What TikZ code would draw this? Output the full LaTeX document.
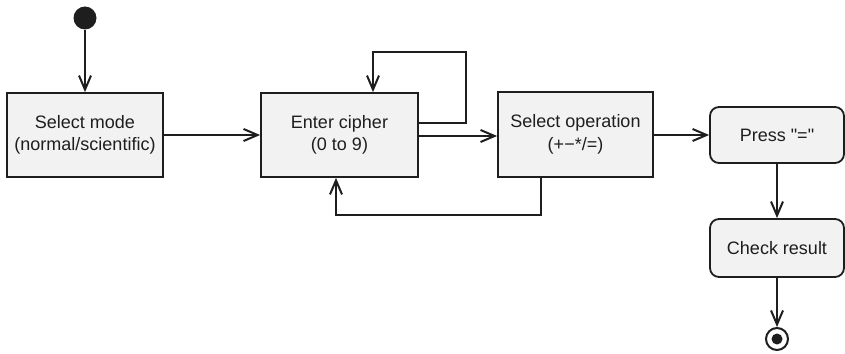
\documentclass[tikz,border=0pt]{standalone}
\usepackage{fontspec}
\setmainfont{Liberation Sans}[Ligatures=TeXOff]
\usetikzlibrary{arrows.meta}
\definecolor{boxfill}{HTML}{F2F2F2}
\definecolor{ink}{HTML}{1E1E1E}
\tikzset{
  arr/.style={draw=ink, line width=2pt, -{Straight Barb[length=14pt,width=12pt,line width=2pt]}},
  action/.style={draw=ink, fill=boxfill, line width=1.8pt, rectangle, align=center,
    inner sep=0pt, font=\fontsize{18}{22.5}\selectfont, text=ink},
  rounded action/.style={action, rounded corners=9pt},
}
\begin{document}
\begin{tikzpicture}[x=1pt, y=-1pt]
  \useasboundingbox (0,0) rectangle (845,353);

  % start and end markers
  \node[circle, fill=ink, minimum size=23pt, inner sep=0pt] (init) at (85,18) {};
  \node[circle, draw=ink, line width=2pt, minimum size=22pt, inner sep=0pt] (final) at (777,339) {};
  \fill[ink] (final.center) circle (5.5pt);

  % action boxes
  \node[action, minimum width=156pt, minimum height=84pt] (mode) at (85,135)
    {Select mode\\(normal/scientific)};
  \node[action, minimum width=157pt, minimum height=84pt] (cipher) at (339.5,135)
    {Enter cipher\\(0 to 9)};
  \node[action, minimum width=155pt, minimum height=85pt] (oper) at (575.5,134.5)
    {Select operation\\(+−*/=)};
  \node[rounded action, minimum width=134pt, minimum height=56pt] (press) at (777,135)
    {Press "="};
  \node[rounded action, minimum width=134pt, minimum height=58pt] (check) at (777,248)
    {Check result};

  % bend points of the loops
  \coordinate (loopR) at (466,52);
  \coordinate (backR) at (541,215);
  \coordinate (backL) at (336,215);

  % connectors
  \draw[arr] (init) -- (mode);
  \draw[arr] (mode.east) -- (mode.east -| cipher.west);
  \draw[arr] ([yshift=12pt]cipher.east) -| (loopR) -| ([xshift=33.5pt]cipher.north);
  \draw[arr] ([yshift=-1pt]cipher.east) -- ([yshift=-1pt]cipher.east -| oper.west);
  \draw[arr] (backR |- oper.south) -- (backR) -- (backL) -- (backL |- cipher.south);
  \draw[arr] (oper.east |- press.west) -- (press.west);
  \draw[arr] (press.south) -- (check.north);
  \draw[arr] (check.south) -- (final.north);
\end{tikzpicture}
\end{document}
